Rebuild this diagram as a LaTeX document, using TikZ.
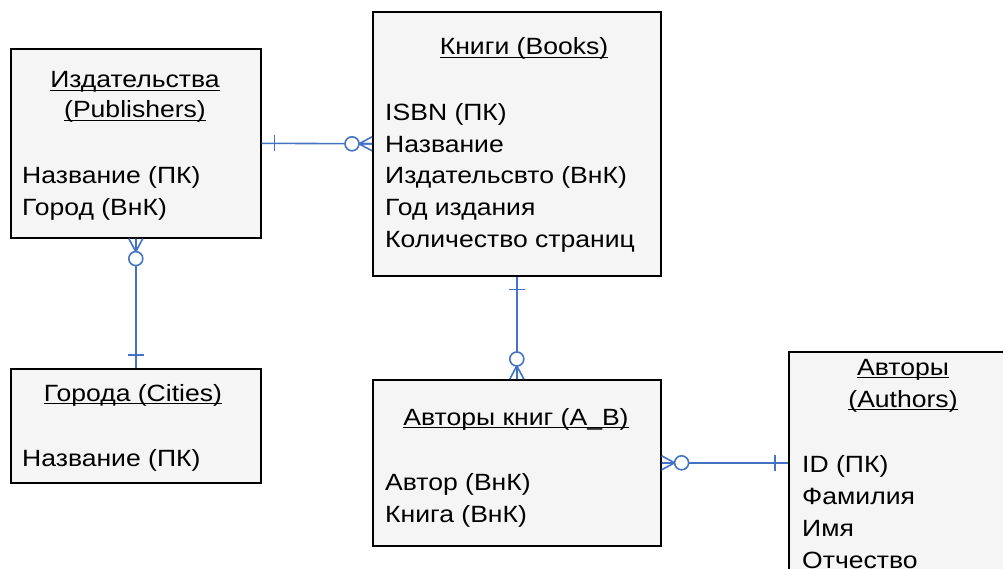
\documentclass[tikz,border=0pt]{standalone}
\usepackage{fontspec}
\setmainfont{Liberation Sans}[FakeStretch=1.13]
\usetikzlibrary{calc}
\definecolor{relblue}{HTML}{4472C4}
\definecolor{boxfill}{HTML}{F5F5F5}
% underlined heading with a heavier rule than \underline
\newcommand\hdrline[1]{\leavevmode\setbox0\hbox{#1}\rlap{\rule[-3pt]{\wd0}{1.3pt}}\box0}

\begin{document}
\begin{tikzpicture}[x=1pt,y=-1pt,
  entity/.style={draw=black, line width=1.6pt, fill=boxfill, rectangle, inner sep=0pt, anchor=north west},
  attr/.style={font=\fontsize{23.5}{32}\selectfont, inner sep=0pt, anchor=base west},
  head/.style={font=\fontsize{23.5}{32}\selectfont, inner sep=0pt, anchor=base},
  rel/.style={draw=relblue, line width=1.6pt},
  zeromany/.pic={\draw[rel] (0,7)--(13,0)--(0,-7) (0,0)--(13,0);
                 \draw[rel,fill=white] (20,0) circle[radius=7pt];},
  onebar/.pic={\draw[rel] (13,-8)--(13,8);}
]
\useasboundingbox (0,0) rectangle (1003,569);
\clip (0,0) rectangle (1003,569);
\fill[white] (0,0) rectangle (1003,569);

% entities
\node[entity, minimum width=250pt, minimum height=189pt] (pub) at (10,48) {};
\node[entity, minimum width=288pt, minimum height=264pt] (books) at (372,11) {};
\node[entity, minimum width=250pt, minimum height=114pt] (city) at (10,368) {};
\node[entity, minimum width=288pt, minimum height=166pt] (ab) at (372,379) {};
\node[entity, minimum width=240pt, minimum height=240pt] (auth) at (788,351) {};

% Издательства
\node[head] (pubh1) at (135,88) {\hdrline{Издательства}};
\node[head] (pubh2) at (135,118) {\hdrline{(Publishers)}};
\node[attr] (puba1) at (22,184) {Название (ПК)};
\node[attr] (puba2) at (22,216) {Город (ВнК)};

% Книги
\node[head] (bookh) at (524,55) {\hdrline{Книги (Books)}};
\node[attr] (booka1) at (385,120.5) {ISBN (ПК)};
\node[attr] (booka2) at (385,152.5) {Название};
\node[attr] (booka3) at (385,184) {Издательсвто (ВнК)};
\node[attr] (booka4) at (385,216) {Год издания};
\node[attr] (booka5) at (385,247.5) {Количество страниц};

% Города
\node[head] (cityh) at (133,401) {\hdrline{Города (Cities)}};
\node[attr] (citya1) at (22,466) {Название (ПК)};

% Авторы книг
\node[head] (abh) at (516,425) {\hdrline{Авторы книг (A\_B)}};
\node[attr] (aba1) at (385,490) {Автор (ВнК)};
\node[attr] (aba2) at (385,522) {Книга (ВнК)};

% Авторы
\node[head] (authh1) at (903,375) {\hdrline{Авторы}};
\node[head] (authh2) at (903,407) {\hdrline{(Authors)}};
\node[attr] (autha1) at (802,472) {ID (ПК)};
\node[attr] (autha2) at (802,504) {Фамилия};
\node[attr] (autha3) at (802,536) {Имя};
\node[attr] (autha4) at (802,568) {Отчество};

% relationships
\coordinate (abr) at (ab.east);
\coordinate (authl) at (abr -| auth.west);
\draw[rel] (pub.east) -- (books.west);
\draw[rel] (pub.south) -- (city.north);
\draw[rel] (books.south) -- (ab.north);
\draw[rel] (abr) -- (authl);

\pic[rotate=180] at (books.west) {zeromany};
\pic at (pub.east) {onebar};
\pic[rotate=-90] at (pub.south) {zeromany};
\pic[rotate=90] at (city.north) {onebar};
\pic[rotate=-90] at (books.south) {onebar};
\pic[rotate=90] at (ab.north) {zeromany};
\pic at (abr) {zeromany};
\pic[rotate=180] at (authl) {onebar};
\end{tikzpicture}
\end{document}
